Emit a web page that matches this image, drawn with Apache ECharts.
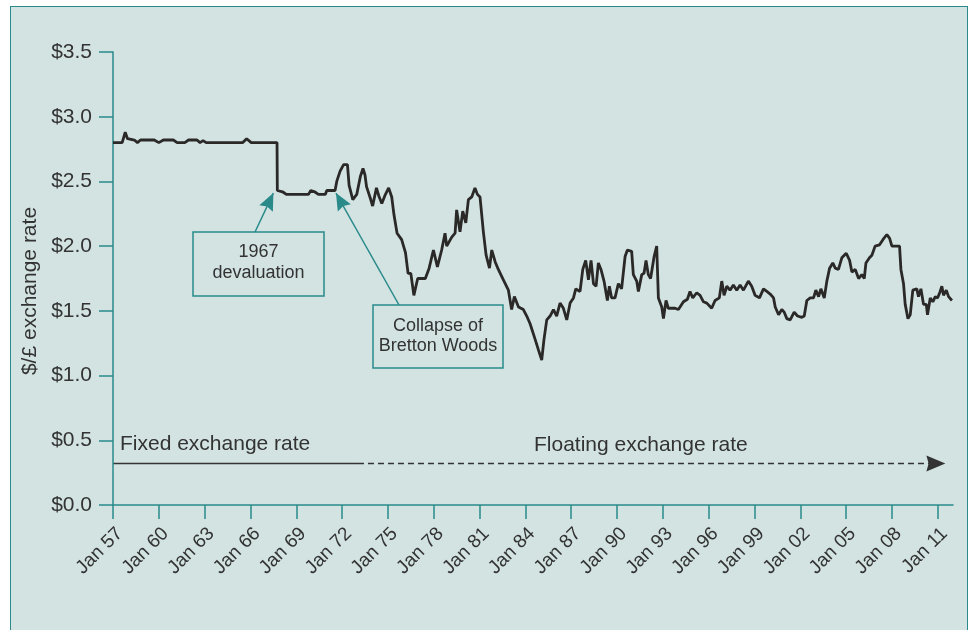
<!DOCTYPE html>
<html>
<head>
<meta charset="utf-8">
<title>Dollar / pound exchange rate</title>
<script src="https://cdn.jsdelivr.net/npm/echarts@6/dist/echarts.min.js"></script>
<style>
  body { margin: 0; background: #fff; overflow: hidden; }
  #frame { position: absolute; left: 10px; top: 6px; width: 956px; height: 660px;
           background: #d2e3e2; border: 1.5px solid #2a8a8a; }
  #chart { position: absolute; left: 0; top: 0; width: 971px; height: 630px; }
</style>
</head>
<body>
<div id="frame"></div>
<div id="chart"></div>
<script>
// x axis ticks
const tickYears = [1957, 1960, 1963, 1966, 1969, 1972, 1975, 1978, 1981, 1984,
                   1987, 1990, 1993, 1996, 1999, 2002, 2005, 2008, 2011];
const tickLabels = ['Jan 57', 'Jan 60', 'Jan 63', 'Jan 66', 'Jan 69', 'Jan 72', 'Jan 75',
                    'Jan 78', 'Jan 81', 'Jan 84', 'Jan 87', 'Jan 90', 'Jan 93', 'Jan 96',
                    'Jan 99', 'Jan 02', 'Jan 05', 'Jan 08', 'Jan 11'];

// $/£ rate, [year, rate]
const rateFixed = [
  [1957.0, 2.80], [1957.6, 2.80], [1957.8, 2.88], [1957.95, 2.83], [1958.4, 2.82],
  [1958.6, 2.80], [1958.8, 2.82], [1959.7, 2.82], [1960.0, 2.80], [1960.3, 2.82],
  [1960.95, 2.82], [1961.2, 2.80], [1961.7, 2.80], [1961.95, 2.82], [1962.5, 2.82],
  [1962.7, 2.80], [1962.9, 2.815], [1963.1, 2.80], [1965.5, 2.80], [1965.75, 2.83],
  [1966.05, 2.80], [1967.74, 2.80], [1967.76, 2.43], [1968.1, 2.42], [1968.35, 2.40],
  [1969.8, 2.40], [1969.95, 2.43], [1970.2, 2.42], [1970.45, 2.40], [1970.9, 2.40],
  [1971.0, 2.43], [1971.54, 2.43]
];
const rate1971_1989 = [
  [1971.65, 2.50], [1971.87, 2.58], [1972.1, 2.63], [1972.35, 2.63], [1972.46, 2.47],
  [1972.57, 2.48], [1972.7, 2.36], [1972.96, 2.40], [1973.2, 2.54], [1973.37, 2.60],
  [1973.5, 2.55], [1973.6, 2.46], [1973.85, 2.37], [1974.0, 2.31], [1974.25, 2.45],
  [1974.4, 2.39], [1974.6, 2.33], [1974.8, 2.39], [1975.05, 2.45], [1975.25, 2.38],
  [1975.4, 2.24], [1975.6, 2.10], [1975.9, 2.05], [1976.15, 1.95], [1976.32, 1.79],
  [1976.5, 1.79], [1976.7, 1.62], [1976.95, 1.75], [1977.45, 1.75], [1977.7, 1.83],
  [1977.98, 1.97], [1978.24, 1.84], [1978.52, 1.97], [1978.74, 2.10], [1978.85, 2.00],
  [1979.18, 2.07], [1979.4, 2.10], [1979.5, 2.28], [1979.72, 2.11], [1979.9, 2.27],
  [1980.1, 2.18], [1980.27, 2.36], [1980.49, 2.38], [1980.7, 2.45], [1980.86, 2.40],
  [1981.03, 2.38], [1981.25, 2.11], [1981.43, 1.93], [1981.65, 1.83], [1981.8, 1.97],
  [1982.02, 1.88], [1982.23, 1.82], [1982.56, 1.74], [1982.89, 1.66], [1983.1, 1.51],
  [1983.28, 1.61], [1983.55, 1.53], [1983.87, 1.51], [1984.09, 1.46], [1984.31, 1.40],
  [1984.64, 1.28], [1984.85, 1.20], [1985.07, 1.12], [1985.22, 1.28], [1985.4, 1.43],
  [1985.62, 1.46], [1985.84, 1.51], [1986.05, 1.46], [1986.27, 1.56], [1986.49, 1.52],
  [1986.71, 1.43], [1986.93, 1.56], [1987.15, 1.60], [1987.3, 1.67], [1987.58, 1.65],
  [1987.76, 1.82], [1987.95, 1.89], [1988.13, 1.74], [1988.3, 1.89], [1988.46, 1.71],
  [1988.63, 1.69], [1988.78, 1.87], [1988.95, 1.82]
];
const rate1989_2000 = [
  [1989.15, 1.73], [1989.37, 1.58], [1989.5, 1.69], [1989.65, 1.60], [1989.87, 1.60],
  [1990.09, 1.71], [1990.3, 1.67], [1990.53, 1.92], [1990.68, 1.97], [1990.96, 1.96],
  [1991.07, 1.78], [1991.29, 1.73], [1991.4, 1.65], [1991.62, 1.78], [1991.77, 1.79],
  [1991.9, 1.89], [1992.05, 1.78], [1992.2, 1.75], [1992.43, 1.92], [1992.6, 2.00],
  [1992.71, 1.60], [1992.93, 1.53], [1993.04, 1.44], [1993.21, 1.58], [1993.36, 1.52],
  [1993.8, 1.52], [1994.02, 1.51], [1994.35, 1.57], [1994.61, 1.59], [1994.78, 1.65],
  [1994.96, 1.60], [1995.22, 1.64], [1995.44, 1.62], [1995.66, 1.57], [1995.88, 1.56],
  [1996.2, 1.52], [1996.42, 1.58], [1996.7, 1.60], [1996.86, 1.73], [1997.01, 1.62],
  [1997.19, 1.69], [1997.4, 1.66], [1997.62, 1.70], [1997.84, 1.66], [1998.06, 1.70],
  [1998.28, 1.66], [1998.6, 1.73], [1998.82, 1.69], [1999.04, 1.62], [1999.33, 1.60],
  [1999.59, 1.67], [1999.81, 1.65]
];
const rate2000_2012 = [
  [2000.03, 1.63], [2000.25, 1.60], [2000.36, 1.53], [2000.58, 1.47], [2000.79, 1.51],
  [2000.95, 1.49], [2001.12, 1.44], [2001.34, 1.43], [2001.6, 1.49], [2001.82, 1.46],
  [2002.1, 1.45], [2002.26, 1.46], [2002.43, 1.58], [2002.65, 1.60], [2002.87, 1.60],
  [2003.02, 1.66], [2003.2, 1.61], [2003.35, 1.67], [2003.57, 1.60], [2003.74, 1.73],
  [2003.92, 1.83], [2004.13, 1.87], [2004.29, 1.83], [2004.5, 1.82], [2004.72, 1.91],
  [2005.01, 1.945], [2005.23, 1.89], [2005.38, 1.80], [2005.6, 1.82], [2005.82, 1.75],
  [2006.03, 1.78], [2006.19, 1.75], [2006.3, 1.87], [2006.53, 1.91], [2006.69, 1.93],
  [2006.9, 2.00], [2007.19, 2.01], [2007.41, 2.05], [2007.67, 2.09], [2007.85, 2.06],
  [2008.0, 2.00], [2008.5, 2.00], [2008.59, 1.82], [2008.76, 1.71], [2008.87, 1.55],
  [2009.05, 1.44], [2009.2, 1.47], [2009.37, 1.66], [2009.63, 1.67], [2009.74, 1.61],
  [2009.9, 1.67], [2010.07, 1.55], [2010.25, 1.55], [2010.33, 1.47], [2010.51, 1.60],
  [2010.68, 1.57], [2010.84, 1.61], [2010.99, 1.60], [2011.16, 1.65], [2011.27, 1.69],
  [2011.38, 1.62], [2011.56, 1.66], [2011.71, 1.61], [2011.93, 1.58]
];

// annotations (data coords)
const regimeY = 0.32;
const fixedEnd = 1973.04;
const floatEnd = 2011.5;
const noteTips = [[1967.5, 2.41], [1971.6, 2.41]];

const teal = '#2a8a8a';
const ink = '#333';
const font = '"Liberation Sans", Arial, sans-serif';

var myChart = echarts.init(document.getElementById('chart'));
option = {
  animation: false,
  grid: { left: 113, right: 18, top: 52, bottom: 125 },
  xAxis: {
    type: 'value',
    min: 1957,
    max: 2012,
    axisLine: { lineStyle: { color: teal, width: 1.5 } },
    axisTick: { customValues: tickYears, length: 14, lineStyle: { color: teal, width: 1.5 } },
    axisLabel: {
      customValues: tickYears,
      rotate: 45,
      margin: 19,
      verticalAlign: 'top',
      fontSize: 19,
      fontFamily: font,
      color: ink,
      formatter: v => tickLabels[tickYears.indexOf(v)]
    },
    splitLine: { show: false }
  },
  yAxis: {
    type: 'value',
    min: 0,
    max: 3.5,
    interval: 0.5,
    axisLine: { show: true, lineStyle: { color: teal, width: 1.5 } },
    axisTick: { show: true, length: 14, lineStyle: { color: teal, width: 1.5 } },
    axisLabel: {
      margin: 21,
      fontSize: 21,
      fontFamily: font,
      color: ink,
      formatter: v => '$' + v.toFixed(1)
    },
    splitLine: { show: false }
  },
  series: [
    {
      type: 'line',
      data: rateFixed.concat(rate1971_1989, rate1989_2000, rate2000_2012),
      showSymbol: false,
      lineStyle: { color: '#2b2828', width: 2.8 },
      z: 5
    }
  ]
};
myChart.setOption(option);

// annotation graphics from data coords
const px = p => myChart.convertToPixel({ gridIndex: 0 }, p);
function head(from, to, len, half, color) {
  const dx = to[0] - from[0], dy = to[1] - from[1];
  const d = Math.sqrt(dx * dx + dy * dy);
  const ux = dx / d, uy = dy / d;
  const bx = to[0] - ux * len, by = to[1] - uy * len;
  return {
    type: 'polygon',
    shape: { points: [to, [bx - uy * half, by + ux * half], [bx + ux * len * 0.12, by + uy * len * 0.12], [bx + uy * half, by - ux * half]] },
    style: { fill: color }
  };
}

const a0 = px([1957, regimeY]);
const a1 = px([fixedEnd, regimeY]);
const a2 = px([floatEnd, regimeY]);
const t1 = px(noteTips[0]);
const t2 = px(noteTips[1]);
const s1 = [255, 232];
const s2 = [399, 305];

const g = [
  { type: 'line', shape: { x1: a0[0], y1: a0[1], x2: a1[0], y2: a1[1] }, style: { stroke: ink, lineWidth: 1.5 } },
  { type: 'line', shape: { x1: a1[0], y1: a1[1], x2: a2[0] - 10, y2: a2[1] }, style: { stroke: ink, lineWidth: 1.5, lineDash: [6, 4] } },
  head([a1[0], a1[1]], a2, 19, 8, ink),
  { type: 'text', x: 120, y: 444, style: { text: 'Fixed exchange rate', font: '21px ' + font, fill: ink, textVerticalAlign: 'middle' } },
  { type: 'text', x: 534, y: 445, style: { text: 'Floating exchange rate', font: '21px ' + font, fill: ink, textVerticalAlign: 'middle' } },
  { type: 'text', x: 30, y: 291, rotation: Math.PI / 2, style: { text: '$/£ exchange rate', font: '21px ' + font, fill: ink, textAlign: 'center', textVerticalAlign: 'middle' } },
  { type: 'rect', shape: { x: 193, y: 232, width: 131, height: 64 }, style: { fill: 'none', stroke: teal, lineWidth: 1.5 } },
  { type: 'text', x: 258.5, y: 263, style: { text: '1967\ndevaluation', font: '18px ' + font, lineHeight: 21, fill: ink, textAlign: 'center', textVerticalAlign: 'middle' } },
  { type: 'rect', shape: { x: 373, y: 305, width: 130, height: 63 }, style: { fill: 'none', stroke: teal, lineWidth: 1.5 } },
  { type: 'text', x: 438, y: 336, style: { text: 'Collapse of\nBretton Woods', font: '18px ' + font, lineHeight: 20, fill: ink, textAlign: 'center', textVerticalAlign: 'middle' } },
  { type: 'line', shape: { x1: s1[0], y1: s1[1], x2: t1[0], y2: t1[1] }, style: { stroke: teal, lineWidth: 1.5 } },
  head(s1, t1, 17, 7.5, teal),
  { type: 'line', shape: { x1: s2[0], y1: s2[1], x2: t2[0], y2: t2[1] }, style: { stroke: teal, lineWidth: 1.5 } },
  head(s2, t2, 17, 7.5, teal)
];
myChart.setOption({ graphic: { elements: g } });
window.addEventListener('resize', myChart.resize);
</script>
</body>
</html>
